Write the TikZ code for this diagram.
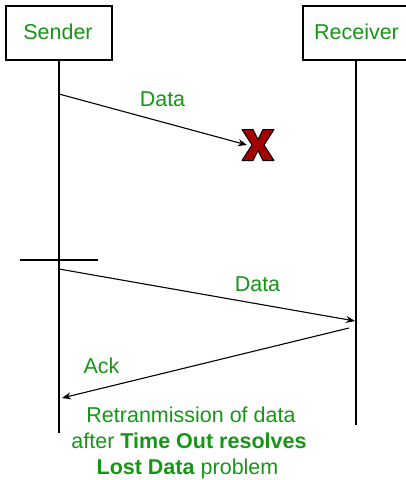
\documentclass[tikz,border=0pt]{standalone}
\usepackage{fontspec}
\setmainfont{Liberation Sans}
\usetikzlibrary{arrows.meta,calc}
\definecolor{lblgreen}{RGB}{22,150,22}
\definecolor{lossred}{RGB}{165,0,0}
\begin{document}
\begin{tikzpicture}[x=1pt,y=-1pt,
  every node/.style={inner sep=0pt,outer sep=0pt},
  actor/.style={draw=black,line width=1.1pt,fill=white,minimum height=54pt,minimum width=106pt},
  lifeline/.style={line width=1.1pt},
  msg/.style={line width=1.1pt,-{Stealth[length=9pt,width=7pt]}},
  lbl/.style={text=lblgreen,anchor=base,font=\fontsize{21.5}{26}\selectfont}]
\useasboundingbox (0,0) rectangle (406,480);
\fill[white] (0,0) rectangle (406,480);

% participants
\node[actor] (sender) at (59,33) {};
\node[actor,anchor=west] (receiver) at (303,33) {};
\node[lbl] (sendlabel) at (58,39) {Sender};
\node[lbl] (recvlabel) at (356.5,39) {Receiver};

% lifelines
\coordinate (sbot) at (59,433);
\coordinate (rbot) at (356,425);
\draw[lifeline] (sender.south) -- (sbot);
\draw[lifeline] (receiver.south -| rbot) -- (rbot);

% lost data
\coordinate (s1) at (59,94);
\coordinate (lost) at (258,145);
\coordinate (lostin) at (247,145);
\draw[msg] (s1) -- (lostin);
\node[lbl] (data1) at (162.5,106) {Data};
\filldraw[fill=lossred,draw=black,line width=1pt,line join=round]
  ($(lost)+(-16,-15.5)$) -- ++(11,0) -- ($(lost)+(0,-5.5)$) -- ++(5,-10) -- ++(11,0)
  -- ($(lost)+(6,0)$) -- ++(10,15.5) -- ++(-11,0) -- ($(lost)+(0,5.5)$)
  -- ++(-5,10) -- ++(-11,0) -- ($(lost)+(-6,0)$) -- cycle;

% time-out mark
\coordinate (tl) at (20,260);
\coordinate (tr) at (98,260);
\draw[line width=1.1pt] (tl) -- (tr);

% retransmission
\coordinate (s2) at (59,269);
\coordinate (r2) at (355,321);
\draw[msg] (s2) -- (r2);
\node[lbl] (data2) at (257.5,291) {Data};

% acknowledgement
\coordinate (r3) at (349,328);
\coordinate (s3) at (62,398);
\draw[msg] (r3) -- (s3);
\node[lbl] (ack) at (101.5,373) {Ack};

% summary
\node[lbl] (summary1) at (191,422) {Retranmission of data};
\node[lbl] (summary2) at (189,448) {after \textbf{Time Out resolves}};
\node[lbl] (summary3) at (187.5,474) {\textbf{Lost Data} problem};
\end{tikzpicture}
\end{document}
